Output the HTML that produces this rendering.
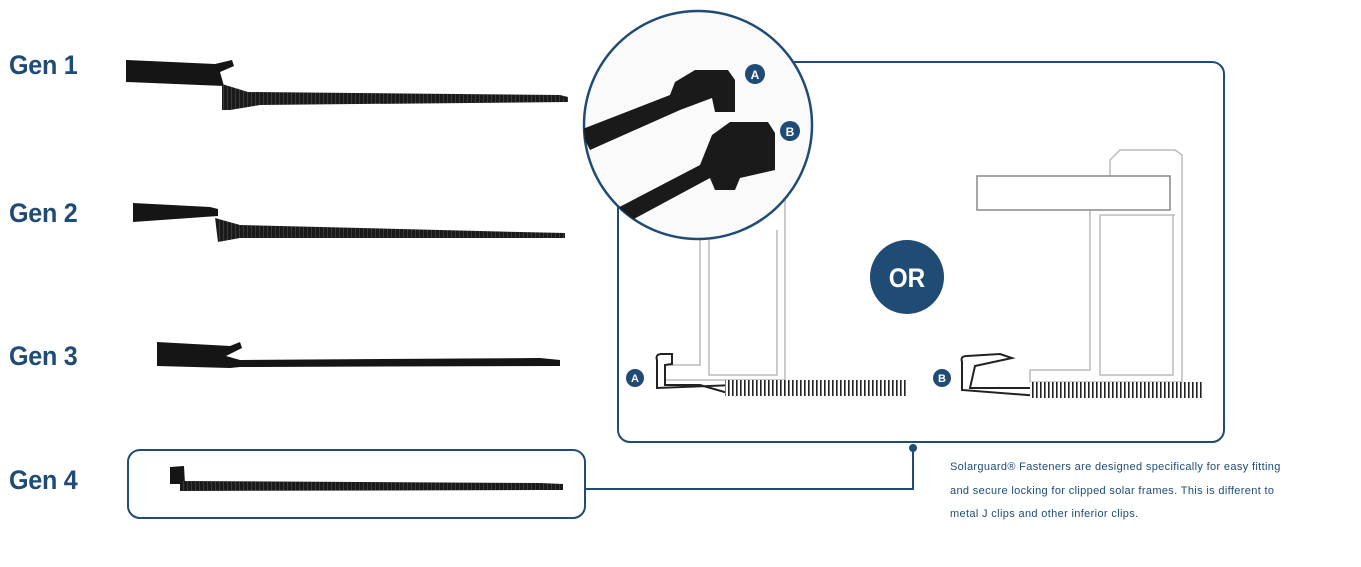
<!DOCTYPE html>
<html><head><meta charset="utf-8"><style>
html,body{margin:0;padding:0;background:#fff;}
body{width:1361px;height:567px;overflow:hidden;position:relative;font-family:"Liberation Sans",sans-serif;}
.g{position:absolute;left:9px;font-weight:bold;font-size:27px;color:#1f4b74;transform:scaleX(0.93);transform-origin:left;letter-spacing:-0.3px;}
.t{position:absolute;left:950px;font-size:11px;color:#1f4b74;line-height:23.5px;top:456px;letter-spacing:0.35px;white-space:nowrap;}
</style></head><body>
<div class="g" style="top:50px">Gen 1</div>
<div class="g" style="top:198px">Gen 2</div>
<div class="g" style="top:341px">Gen 3</div>
<div class="g" style="top:465px">Gen 4</div>
<div class="t">Solarguard® Fasteners are designed specifically for easy fitting<br>and secure locking for clipped solar frames. This is different to<br>metal J clips and other inferior clips.</div>
<svg width="1361" height="567" style="position:absolute;left:0;top:0">
<defs><pattern id="rib" width="4" height="10" patternUnits="userSpaceOnUse"><rect width="4" height="10" fill="#1a1a1a"/><rect x="3" width="1" height="10" fill="#3a3a3a"/></pattern>
<pattern id="rib2" width="4" height="14" patternUnits="userSpaceOnUse"><rect width="4" height="14" fill="#fff"/><rect x="0" width="1.6" height="14" fill="#222"/></pattern>
<clipPath id="cc"><circle cx="698" cy="125" r="114"/></clipPath></defs>
<!-- Gen1 -->
<path d="M126 60 L215 64 L232 60 L234 66 L220 72 L224 86 L126 82 Z" fill="#151515"/>
<path d="M222 84 L248 92 L560 95 L568 97 L568 102 L260 105 L230 110 L222 110Z" fill="url(#rib)"/>
<!-- Gen2 -->
<path d="M133 203 L210 207 L218 209 L218 216 L133 222 Z" fill="#151515"/>
<path d="M215 218 L240 225 L520 232 L565 233 L565 238 L240 238 L218 242Z" fill="url(#rib)"/>
<!-- Gen3 -->
<path d="M157 342 L230 346 L240 342 L242 348 L226 356 L240 360 L540 358 L560 360 L560 366 L240 367 L230 368 L157 366 Z" fill="#151515"/>
<!-- Gen4 -->
<rect x="128" y="450" width="457" height="68" rx="12" fill="none" stroke="#1f4b74" stroke-width="2"/>
<path d="M170 467 L184 466 L185 484 L170 484Z" fill="#151515"/>
<path d="M180 481 L540 483 L563 484 L563 490 L540 490 L180 491Z" fill="url(#rib)"/>
<path d="M586 489 L913 489 L913 448" fill="none" stroke="#1f4b74" stroke-width="2"/>
<circle cx="913" cy="448" r="4" fill="#1f4b74"/>
<!-- big box -->
<rect x="618" y="62" width="606" height="380" rx="12" fill="none" stroke="#1f4b74" stroke-width="2"/>
<g fill="none" stroke="#bbb" stroke-width="1.5">
<path d="M700 230 L700 365 L665 365 L665 380 L785 380 L785 200"/>
<path d="M709 240 L709 375 L777 375 L777 230"/>
<path d="M1090 205 L1090 370 L1030 370 L1030 382 L1182 382 L1182 155 L1175 150 L1120 150 L1110 160 L1110 185"/>
<path d="M1100 215 L1175 215 M1100 215 L1100 375 L1173 375 L1173 215"/>
</g>
<rect x="977" y="176" width="193" height="34" fill="#fff" stroke="#888" stroke-width="1.5"/>
<path d="M657 360 Q655 354 662 354 L672 354 L672 364 L665 365 L665 385 L700 385 L735 395 L735 385 L657 388Z" fill="none" stroke="#222" stroke-width="2"/>
<rect x="725" y="380" width="181" height="16" fill="url(#rib2)"/>
<path d="M962 362 Q960 356 967 356 L1000 354 L1012 358 L975 366 L970 388 L1040 388 L1040 396 L962 390Z" fill="none" stroke="#222" stroke-width="2"/>
<rect x="1030" y="382" width="174" height="16" fill="url(#rib2)"/>
<circle cx="635" cy="378" r="9" fill="#1f4b74"/><text x="635" y="382" font-size="11" font-weight="bold" fill="#fff" text-anchor="middle" font-family="Liberation Sans">A</text>
<circle cx="942" cy="378" r="9" fill="#1f4b74"/><text x="942" y="382" font-size="11" font-weight="bold" fill="#fff" text-anchor="middle" font-family="Liberation Sans">B</text>
<circle cx="907" cy="277" r="37" fill="#1f4b74"/>
<text x="907" y="287" font-size="27" font-weight="bold" fill="#fff" text-anchor="middle" font-family="Liberation Sans" transform="translate(907 0) scale(0.9 1) translate(-907 0)">OR</text>
<circle cx="698" cy="125" r="114" fill="#fafafa" stroke="#1f4b74" stroke-width="2.5"/>
<g clip-path="url(#cc)">
<path d="M580 130 L670 95 L675 82 L695 70 L728 70 L735 80 L735 112 L715 112 L712 98 L680 110 L590 150Z" fill="#1a1a1a"/>
<path d="M585 225 L700 165 L712 135 L730 122 L768 122 L775 133 L775 170 L740 178 L735 190 L715 190 L710 178 L595 240Z" fill="#1a1a1a"/>
</g>
<circle cx="755" cy="74" r="10" fill="#1f4b74"/><text x="755" y="79" font-size="12" font-weight="bold" fill="#fff" text-anchor="middle" font-family="Liberation Sans">A</text>
<circle cx="790" cy="131" r="10" fill="#1f4b74"/><text x="790" y="136" font-size="12" font-weight="bold" fill="#fff" text-anchor="middle" font-family="Liberation Sans">B</text>
</svg>
</body></html>
